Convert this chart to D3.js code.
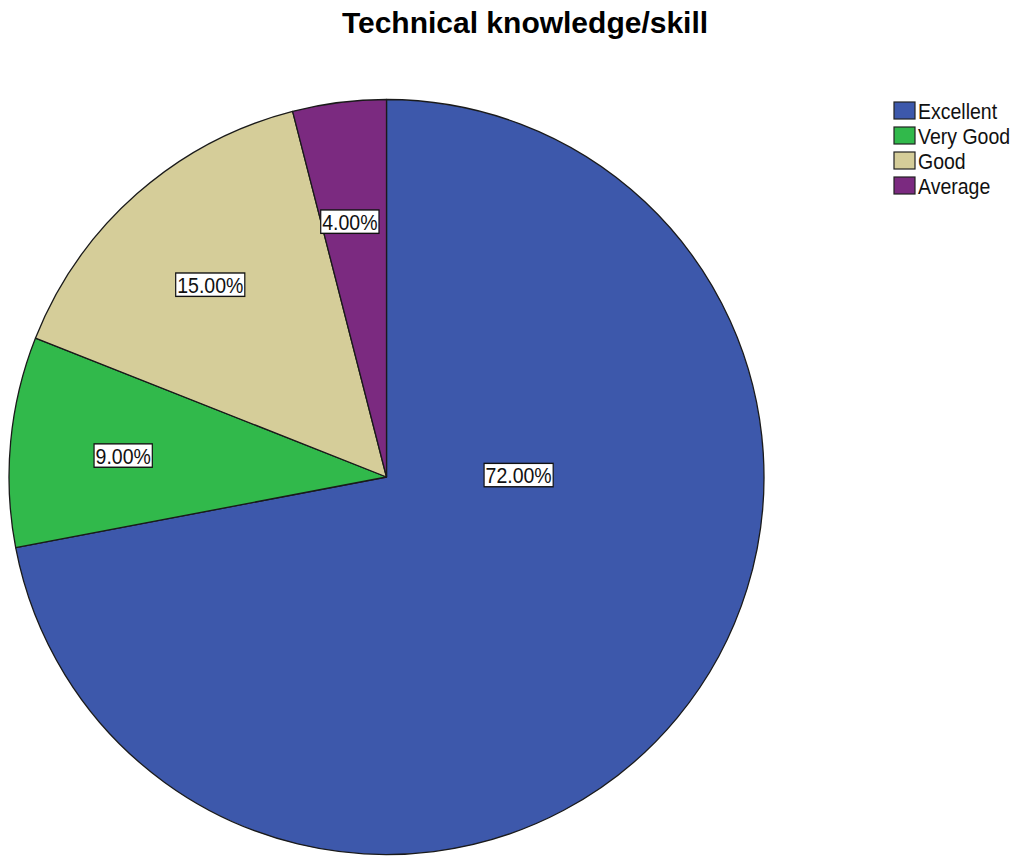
<!DOCTYPE html>
<html>
<head>
<meta charset="utf-8">
<script src="https://cdn.jsdelivr.net/npm/d3@7"></script>
<style>
  html, body { margin: 0; padding: 0; background: #fff; }
  svg { display: block; }
  text { font-family: "Liberation Sans", Arial, sans-serif; }
</style>
</head>
<body>
<svg id="chart" width="1023" height="857"></svg>
<script>
// Ratings and their share of responses (percent)
const categories = ["Excellent", "Very Good", "Good", "Average"];
const percents = [72, 9, 15, 4];
const colors = ["#3d58ab", "#31b94b", "#d5cd99", "#7b2a80"];
const titleText = "Technical knowledge/skill";

const svg = d3.select("#chart");
const cx = 386.5, cy = 477, R = 377.5;
const stretch = 1.15; // labels and legend text are drawn slightly tall

// Title
svg.append("text")
  .attr("x", 525)
  .attr("y", 33)
  .attr("text-anchor", "middle")
  .style("font-size", "30px")
  .style("font-weight", "bold")
  .attr("fill", "#000")
  .text(titleText);

const color = d3.scaleOrdinal().domain(categories).range(colors);

const data = categories.map((c, i) => ({ cat: c, value: percents[i] }));

// Slices run clockwise from 12 o'clock in category order
const pie = d3.pie().value(d => d.value).sort(null);
const arcs = pie(data);
const arc = d3.arc().innerRadius(0).outerRadius(R);

const g = svg.append("g").attr("transform", `translate(${cx},${cy})`);

g.selectAll("path.slice")
  .data(arcs)
  .join("path")
  .attr("class", "slice")
  .attr("d", arc)
  .attr("fill", d => color(d.data.cat))
  .attr("stroke", "#1a1a1a")
  .attr("stroke-width", 1.3)
  .attr("stroke-linejoin", "round");

// Percentage labels in white boxes
const fmt = d => d.toFixed(2) + "%";
const labelArc = d3.arc().innerRadius(R * 0.69).outerRadius(R * 0.69);

function labelPos(d) {
  if (d.endAngle - d.startAngle > Math.PI) {
    // A slice wider than half the pie gets its label nearer the hub
    const a = Math.PI / 2;
    return [Math.sin(a) * R * 0.35, -Math.cos(a) * R * 0.35 - 2];
  }
  const [x, y] = labelArc.centroid(d);
  return [x - 4, y + 3];
}

const labels = g.selectAll("g.lbl")
  .data(arcs)
  .join("g")
  .attr("class", "lbl")
  .attr("transform", d => `translate(${labelPos(d)}) scale(1,${stretch})`);

labels.each(function(d) {
  const sel = d3.select(this);
  const t = sel.append("text")
    .attr("text-anchor", "middle")
    .attr("dy", "0.36em")
    .style("font-size", "19.5px")
    .attr("fill", "#111")
    .text(fmt(d.data.value));
  const bb = t.node().getBBox();
  sel.insert("rect", "text")
    .attr("x", bb.x - 1.5)
    .attr("y", bb.y + 0.5)
    .attr("width", bb.width + 3)
    .attr("height", bb.height - 1)
    .attr("fill", "#fff")
    .attr("stroke", "#111")
    .attr("stroke-width", 1.2);
});

// Legend
const legend = svg.append("g").attr("transform", "translate(894,102)");
const rowH = 25;
const items = legend.selectAll("g.item")
  .data(categories)
  .join("g")
  .attr("class", "item")
  .attr("transform", (d, i) => `translate(0,${i * rowH})`);

items.append("rect")
  .attr("x", 0).attr("y", 0)
  .attr("width", 21).attr("height", 17)
  .attr("fill", d => color(d))
  .attr("stroke", "#222")
  .attr("stroke-width", 1.2);

items.append("text")
  .attr("transform", `translate(24,17) scale(1,${stretch})`)
  .style("font-size", "19.5px")
  .attr("fill", "#111")
  .text(d => d);
</script>
</body>
</html>
